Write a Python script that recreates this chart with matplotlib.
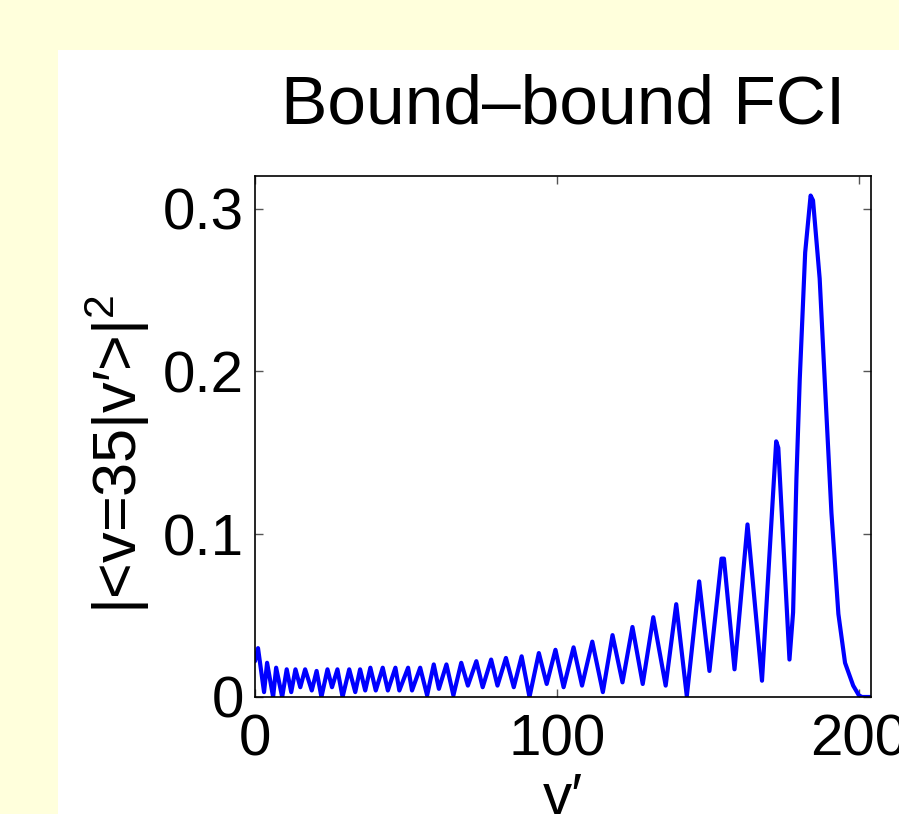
import matplotlib
matplotlib.use("Agg")
import matplotlib.pyplot as plt
from matplotlib.patches import Rectangle

plt.rcParams['font.family'] = ['Liberation Sans', 'DejaVu Sans']
plt.rcParams['mathtext.fontset'] = 'custom'
plt.rcParams['mathtext.rm'] = 'Liberation Sans'
plt.rcParams['mathtext.it'] = 'Liberation Sans'

v_prime = [0, 1, 3, 4, 6, 7, 9, 10.5, 12, 13.4, 15, 16.6, 18.8, 20.4, 22, 24, 25.5, 27.3,
           29, 31.2, 33.2, 34.8, 36.5, 38.2, 40, 42.3, 44, 46.5, 47.8, 50.7, 52, 54.7,
           57, 59.2, 60.9, 63.4, 65.7, 68.3, 70.5, 73.3, 75.4, 78.2, 80.3, 83.1, 85.7,
           88.3, 90.9, 94.0, 96.6, 99.5, 102.2, 105.5, 108.3, 111.7, 115.2, 118.4,
           121.7, 125.0, 128.4, 131.9, 136.0, 139.5, 143.0, 147.1, 150.5, 154.5, 155.3,
           158.8, 163.1, 167.9, 172.6, 173.3, 177.0, 178.2, 179.3, 180.4, 182.2, 184.0,
           184.8, 187.0, 189.2, 190.9, 193.2, 195.4, 198.1, 200, 201, 204]
fci = [0.022, 0.030, 0.003, 0.021, 0.000, 0.018, 0.000, 0.017, 0.003, 0.017, 0.006, 0.017,
       0.004, 0.016, 0.000, 0.017, 0.006, 0.017, 0.000, 0.017, 0.003, 0.017, 0.004, 0.018,
       0.004, 0.018, 0.004, 0.018, 0.004, 0.018, 0.004, 0.018, 0.001, 0.020, 0.005, 0.020,
       0.001, 0.021, 0.007, 0.022, 0.006, 0.023, 0.007, 0.024, 0.006, 0.025, 0.000, 0.027,
       0.008, 0.029, 0.006, 0.0305, 0.007, 0.034, 0.003, 0.038, 0.009, 0.043, 0.008, 0.049,
       0.007, 0.057, 0.0005, 0.071, 0.016, 0.085, 0.085, 0.017, 0.106, 0.010, 0.157, 0.153,
       0.023, 0.052, 0.134, 0.195, 0.273, 0.308, 0.305, 0.257, 0.175, 0.113, 0.051, 0.021,
       0.007, 0.001, 0.0, 0.0]

title = 'Bound\u2013bound FCI'
xlabel = 'v\u2032'
ylabel = '|<v=35|v\u2032>|$^2$'
xticks = [0, 100, 200]
yticks = [0, 0.1, 0.2, 0.3]
yticklabels = ['0', '0.1', '0.2', '0.3']

fig = plt.figure(figsize=(8.99, 8.14), dpi=100)
fig.patch.set_facecolor('#FFFFDC')
fig.add_artist(Rectangle((58 / 899, 0), 1, 1 - 50 / 814, transform=fig.transFigure,
                         facecolor='white', edgecolor='none', zorder=0))

ax = fig.add_axes([255 / 899, 1 - 697 / 814, (871 - 255) / 899, (697 - 176) / 814])
ax.plot(v_prime, fci, color='#0000FF', lw=3.0, solid_joinstyle='round',
        solid_capstyle='round')
ax.set_xlim(0, 204)
ax.set_ylim(0, 0.32)
ax.set_xticks(xticks)
ax.set_xticklabels([str(t) for t in xticks])
ax.set_yticks(yticks)
ax.set_yticklabels(yticklabels)
ax.tick_params(direction='in', length=6, width=1, color='#555555', labelsize=42,
               top=True, right=True)
ax.tick_params(axis='x', pad=12)
ax.tick_params(axis='y', pad=8)
for s in ax.spines.values():
    s.set_linewidth(1.2)
ax.set_title(title, fontsize=50, pad=38)
ax.set_xlabel(xlabel, fontsize=42, labelpad=3)
ax.set_ylabel(ylabel, fontsize=44, labelpad=8)
ax.yaxis.label.set_y(0.466)

fig.savefig('out.png', dpi=100, facecolor=fig.get_facecolor())
